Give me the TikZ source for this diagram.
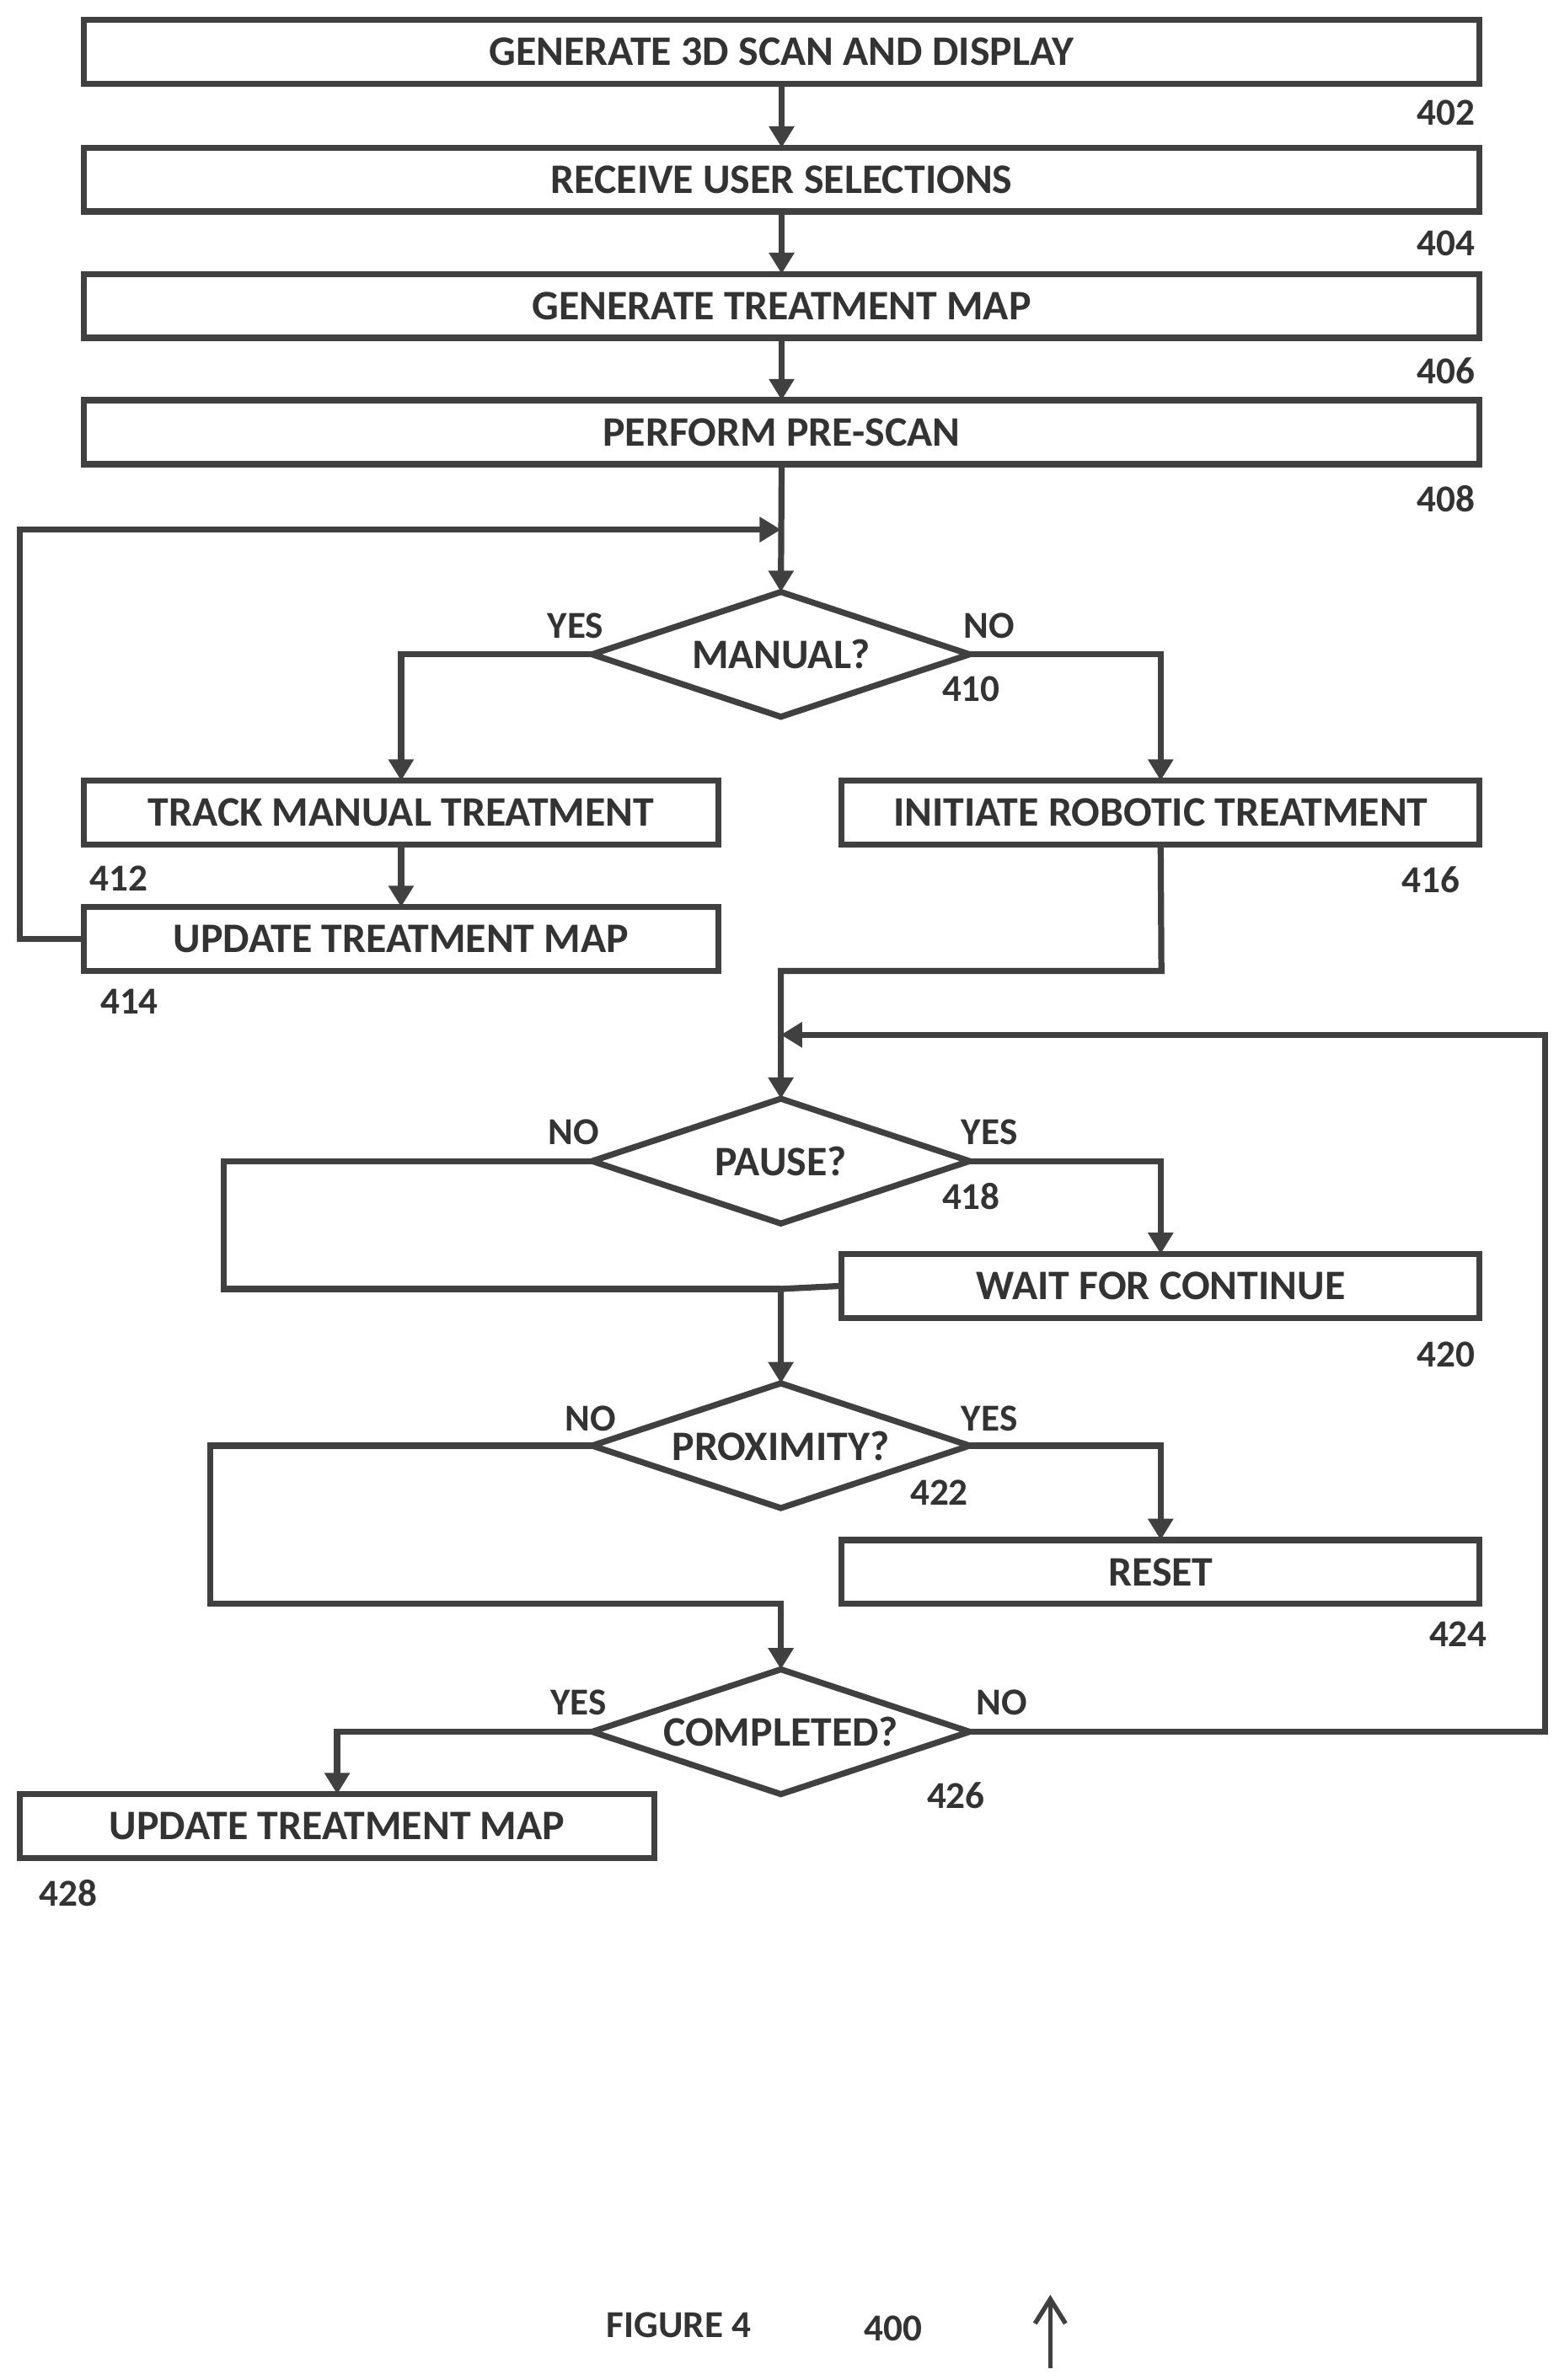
\documentclass[tikz,border=0pt]{standalone}
\usepackage{fontspec}
\setmainfont{Carlito}
\usetikzlibrary{shapes.geometric,arrows.meta}
\begin{document}
\begin{tikzpicture}[x=0.5pt,y=-0.5pt,
  ln/.style={draw=black!75,line width=2pt},
  ar/.style={ln,-{Triangle[length=7pt,width=8pt]}},
  box/.style={ln,fill=white},
  t/.style={font=\bfseries\fontsize{13.8}{16}\selectfont,text=black!80},
  lab/.style={font=\bfseries\fontsize{12.5}{15}\selectfont,text=black!80}]
\useasboundingbox (0,0) rectangle (1024,1564);
\newcommand{\bx}[6]{\draw[box] (#2,#3) rectangle (#4,#5); \node[t] (#1) at ({(#2+#4)/2},{(#3+#5)/2}) {#6};
 \coordinate (#1n) at ({(#2+#4)/2},#3); \coordinate (#1s) at ({(#2+#4)/2},#5);
 \coordinate (#1w) at (#2,{(#3+#5)/2}); \coordinate (#1e) at (#4,{(#3+#5)/2});}
\bx{b402}{55}{13}{972}{55}{GENERATE 3D SCAN AND DISPLAY}
\bx{b404}{55}{97}{972}{139}{RECEIVE USER SELECTIONS}
\bx{b406}{55}{180}{972}{222}{GENERATE TREATMENT MAP}
\bx{b408}{55}{263}{972}{305}{PERFORM PRE-SCAN}
\bx{b412}{55}{513}{472}{555}{TRACK MANUAL TREATMENT}
\bx{b414}{55}{596}{472}{638}{UPDATE TREATMENT MAP}
\bx{b416}{553}{513}{972}{555}{INITIATE ROBOTIC TREATMENT}
\bx{b420}{553}{824}{972}{866}{WAIT FOR CONTINUE}
\bx{b424}{553}{1012}{972}{1054}{RESET}
\bx{b428}{13}{1179}{430}{1221}{UPDATE TREATMENT MAP}
\newcommand{\dm}[4]{\draw[box] (513,{#2-41}) -- (637,#2) -- (513,{#2+41}) -- (389,#2) -- cycle;
 \node[t] (#1) at (513,#2) {#3};
 \coordinate (#1n) at (513,{#2-41}); \coordinate (#1s) at (513,{#2+41});
 \coordinate (#1w) at (389,#2); \coordinate (#1e) at (637,#2);}
\dm{d410}{430}{MANUAL?}{}
\dm{d418}{763}{PAUSE?}{}
\dm{d422}{950}{PROXIMITY?}{}
\dm{d426}{1138}{COMPLETED?}{}
\draw[ar] (b402s) -- (b404n);
\draw[ar] (b404s) -- (b406n);
\draw[ar] (b406s) -- (b408n);
\draw[ar] (b408s) -- (d410n);
\coordinate (l1) at (513,348);
\draw[ar] (b414w) -- (13,617) -- (13,348) -- (l1);
\draw[ar] (d410w) -| (b412n);
\draw[ar] (d410e) -| (b416n);
\draw[ar] (b412s) -- (b414n);
\draw[ar] (b416s) -- (763,638) -- (513,638) -- (d418n);
\coordinate (l2) at (513,680);
\draw[ar] (d426e) -- (1015,1138) -- (1015,680) -- (l2);
\draw[ar] (d418e) -| (b420n);
\coordinate (j1) at (513,847);
\draw[ln] (d418w) -- (147,763) -- (147,847) -- (j1);
\draw[ar] (b420w) -- (j1) -- (d422n);
\draw[ar] (d422e) -| (b424n);
\draw[ar] (d422w) -- (138,950) -- (138,1054) -- (513,1054) -- (d426n);
\draw[ar] (d426w) -| (b428n);
\foreach \x/\y/\s in {950/74/402,950/160/404,950/244/406,950/328/408,638/453/410,78/577/412,85/658/414,940/578/416,638/786/418,950/890/420,617/981/422,958/1074/424,628/1180/426,45/1244/428,
 378/411/YES,650/411/NO,377/744/NO,650/744/YES,388/932/NO,650/932/YES,380/1119/YES,658/1119/NO}
  \node[lab] at (\x,\y) {\s};
\node[lab] (fig) at (446,1528) {FIGURE 4};
\node[lab] (num) at (587,1530) {400};
\coordinate (a0) at (690,1556);
\coordinate (a1) at (690,1508);
\draw[ln,-{Straight Barb[length=8pt,width=10pt]},line width=1.5pt] (a0) -- (a1);
\end{tikzpicture}
\end{document}
